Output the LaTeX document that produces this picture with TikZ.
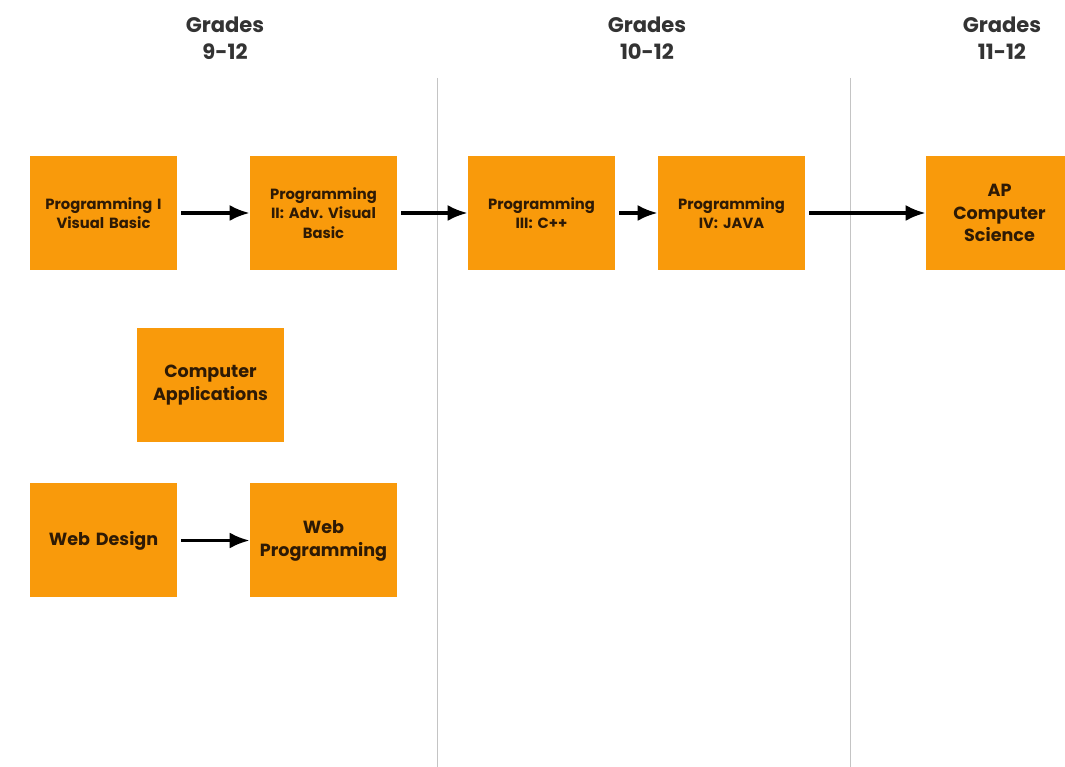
\documentclass[tikz,border=0pt]{standalone}
\usepackage{fontspec}
\setmainfont{Poppins}
\usetikzlibrary{positioning, arrows.meta}
\definecolor{cursoorange}{HTML}{F99A0B}
\definecolor{cursotext}{HTML}{2E1A05}
\definecolor{gradegray}{HTML}{333333}
\definecolor{linegray}{HTML}{C4C4C4}

\begin{document}
\begin{tikzpicture}[-{Latex[length = 4mm, width = 3.2mm]}, auto,
               every edge/.style ={ draw, line width = 1.9pt, shorten <= 0.8mm},
               curso/.style ={ rectangle, fill = cursoorange, text = cursotext, font = \fontsize{8.4}{11}\selectfont\bfseries,
               minimum width = 2.94 cm, minimum height = 2.28 cm, text width = 2.7 cm, align = center, inner sep = 0pt},
               grado/.style ={ text = gradegray, font = \fontsize{12}{15.5}\selectfont\bfseries, align = center}]

           \useasboundingbox (0, 0) rectangle (21.3, -15.34);
           \clip (0, 0) rectangle (21.3, -15.34);

           %separadores de columnas
           \draw[-, linegray, line width = 0.5pt] (8.74, -1.56) -- (8.74, -15.34);
           \draw[-, linegray, line width = 0.5pt] (17.0, -1.56) -- (17.0, -15.34);

           \node[grado] (g1) at (4.5, -0.77) {Grades\\9-12};
           \node[grado] (g2) at (12.94, -0.77) {Grades\\10-12};
           \node[grado] (g3) at (20.04, -0.77) {Grades\\11-12};

           \node[curso] (p1) at (2.07, -4.26) {Programming I\\Visual Basic};
           \node[curso] (p2) at (6.47, -4.26) {Programming\\II: Adv.\ Visual\\Basic};
           \node[curso] (p3) at (10.83, -4.26) {Programming\\III: C++};
           \node[curso] (p4) at (14.63, -4.26) {Programming\\IV: JAVA};
           \node[curso, font = \fontsize{10}{13}\selectfont\bfseries] (ap) at (19.99, -4.26) {AP\\Computer\\Science};

           \node[curso, font = \fontsize{10}{13}\selectfont\bfseries] (ca) at (4.21, -7.71) {Computer\\Applications};
           \node[curso, font = \fontsize{10}{13}\selectfont\bfseries] (wd) at (2.07, -10.81) {Web Design};
           \node[curso, font = \fontsize{10}{13}\selectfont\bfseries] (wp) at (6.47, -10.81) {Web\\Programming};

           \path (p1) edge (p2);
           \path (p2) edge (p3);
           \path (p3) edge (p4);
           \path (p4) edge (ap);
           \path (wd) edge (wp);

       \end{tikzpicture}
\end{document}
